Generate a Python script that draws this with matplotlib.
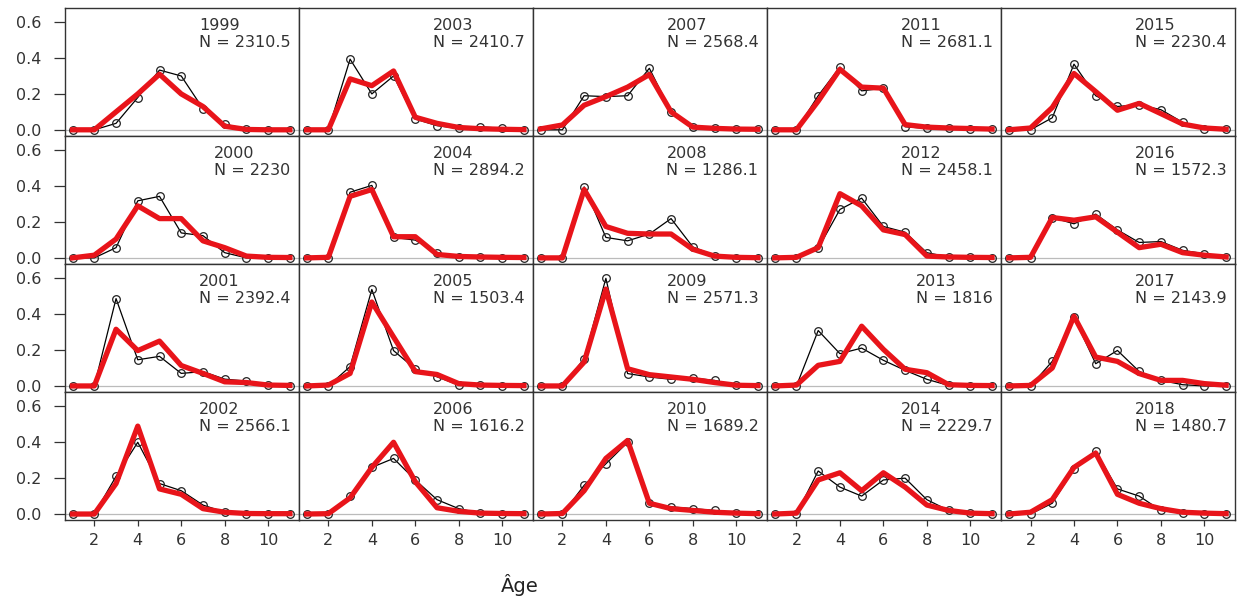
"""
Composition en âge observée (noir) et prédite (rouge) par année, 1999-2018.
"""

import numpy as np
import matplotlib
matplotlib.use("Agg")
import matplotlib.pyplot as plt

ages = np.arange(1, 12)

# années rangées par colonne (4 lignes x 5 colonnes)
years = [1999, 2000, 2001, 2002,
         2003, 2004, 2005, 2006,
         2007, 2008, 2009, 2010,
         2011, 2012, 2013, 2014,
         2015, 2016, 2017, 2018]

n_samples = [2310.5, 2230, 2392.4, 2566.1,
             2410.7, 2894.2, 1503.4, 1616.2,
             2568.4, 1286.1, 2571.3, 1689.2,
             2681.1, 2458.1, 1816, 2229.7,
             2230.4, 1572.3, 2143.9, 1480.7]

# proportions observées
obs = {
    1999: [0, 0, 0.036, 0.18, 0.333, 0.30, 0.118, 0.032, 0.004, 0, 0],
    2000: [0, 0, 0.057, 0.318, 0.343, 0.139, 0.124, 0.029, 0, 0, 0],
    2001: [0, 0, 0.487, 0.146, 0.165, 0.07, 0.08, 0.038, 0.027, 0.003, 0],
    2002: [0, 0, 0.21, 0.40, 0.17, 0.13, 0.05, 0.01, 0, 0, 0],
    2003: [0, 0, 0.394, 0.20, 0.30, 0.06, 0.023, 0.008, 0.017, 0.008, 0],
    2004: [0, 0, 0.366, 0.404, 0.114, 0.099, 0.029, 0.005, 0.003, 0.002, 0],
    2005: [0, 0, 0.108, 0.538, 0.197, 0.095, 0.051, 0.005, 0.003, 0.002, 0.002],
    2006: [0, 0, 0.10, 0.26, 0.31, 0.19, 0.08, 0.03, 0.004, 0.002, 0],
    2007: [0, 0, 0.19, 0.185, 0.19, 0.343, 0.10, 0.017, 0.01, 0.005, 0.003],
    2008: [0, 0, 0.396, 0.114, 0.095, 0.133, 0.219, 0.061, 0.013, 0.002, 0],
    2009: [0, 0, 0.152, 0.60, 0.069, 0.05, 0.037, 0.044, 0.031, 0.004, 0],
    2010: [0, 0, 0.16, 0.28, 0.40, 0.06, 0.04, 0.03, 0.02, 0.005, 0],
    2011: [0, 0, 0.19, 0.35, 0.217, 0.232, 0.017, 0.008, 0.008, 0.006, 0.003],
    2012: [0, 0, 0.053, 0.27, 0.333, 0.175, 0.143, 0.029, 0.005, 0.003, 0],
    2013: [0, 0, 0.309, 0.18, 0.211, 0.143, 0.087, 0.037, 0.003, 0.002, 0.002],
    2014: [0, 0, 0.24, 0.15, 0.10, 0.19, 0.20, 0.08, 0.02, 0.005, 0],
    2015: [0, 0, 0.067, 0.366, 0.19, 0.13, 0.14, 0.112, 0.042, 0.005, 0.003],
    2016: [0, 0, 0.225, 0.19, 0.244, 0.156, 0.086, 0.091, 0.042, 0.023, 0.005],
    2017: [0, 0, 0.137, 0.383, 0.124, 0.198, 0.081, 0.031, 0.007, 0, 0],
    2018: [0, 0, 0.06, 0.25, 0.35, 0.14, 0.10, 0.02, 0.005, 0, 0],
}

# proportions prédites par le modèle
pred = {
    1999: [0, 0, 0.10, 0.20, 0.31, 0.20, 0.13, 0.02, 0.002, 0, 0],
    2000: [0, 0.015, 0.105, 0.29, 0.219, 0.219, 0.095, 0.057, 0.01, 0.003, 0.002],
    2001: [0, 0, 0.316, 0.197, 0.25, 0.114, 0.07, 0.023, 0.019, 0.005, 0.003],
    2002: [0, 0, 0.17, 0.49, 0.14, 0.11, 0.03, 0.01, 0.003, 0.002, 0.002],
    2003: [0, 0, 0.284, 0.246, 0.328, 0.07, 0.036, 0.013, 0.006, 0.003, 0.001],
    2004: [0, 0.003, 0.343, 0.381, 0.118, 0.118, 0.019, 0.008, 0.005, 0.003, 0.002],
    2005: [0, 0.005, 0.07, 0.468, 0.273, 0.08, 0.064, 0.013, 0.005, 0.003, 0.002],
    2006: [0, 0.002, 0.09, 0.26, 0.40, 0.18, 0.035, 0.015, 0.005, 0.003, 0.002],
    2007: [0.005, 0.027, 0.137, 0.185, 0.238, 0.308, 0.10, 0.015, 0.008, 0.004, 0.003],
    2008: [0, 0, 0.381, 0.175, 0.137, 0.133, 0.133, 0.048, 0.01, 0.003, 0.001],
    2009: [0, 0, 0.133, 0.54, 0.096, 0.063, 0.05, 0.037, 0.019, 0.004, 0.002],
    2010: [0, 0.003, 0.13, 0.31, 0.41, 0.06, 0.03, 0.02, 0.01, 0.005, 0.002],
    2011: [0, 0, 0.16, 0.337, 0.238, 0.232, 0.029, 0.015, 0.01, 0.007, 0.004],
    2012: [0, 0.003, 0.057, 0.358, 0.29, 0.156, 0.13, 0.01, 0.005, 0.003, 0.002],
    2013: [0, 0.005, 0.115, 0.137, 0.333, 0.204, 0.093, 0.074, 0.007, 0.003, 0.002],
    2014: [0, 0.005, 0.19, 0.23, 0.13, 0.23, 0.15, 0.05, 0.02, 0.005, 0.002],
    2015: [0, 0.01, 0.124, 0.314, 0.213, 0.109, 0.147, 0.09, 0.032, 0.01, 0.003],
    2016: [0, 0.003, 0.225, 0.21, 0.229, 0.143, 0.057, 0.076, 0.029, 0.015, 0.005],
    2017: [0, 0.003, 0.10, 0.389, 0.161, 0.137, 0.069, 0.031, 0.031, 0.013, 0.004],
    2018: [0, 0.01, 0.08, 0.26, 0.34, 0.11, 0.06, 0.03, 0.01, 0.005, 0.002],
}

y_ticks = [0.0, 0.2, 0.4, 0.6]
x_ticks = [2, 4, 6, 8, 10]

plt.rcParams["font.family"] = ["DejaVu Sans"]

fig, axes = plt.subplots(4, 5, figsize=(12.41, 6.02), dpi=100, sharex=True, sharey=True)
fig.subplots_adjust(left=0.052, right=0.995, top=0.987, bottom=0.136, wspace=0, hspace=0)

for i, (year, n) in enumerate(zip(years, n_samples)):
    row = i % 4
    col = i // 4
    ax = axes[row, col]

    ax.axhline(0, color="#bbbbbb", linewidth=0.9, zorder=1)
    ax.plot(ages, obs[year], color="black", linewidth=0.9, marker="o",
            markersize=5.5, markerfacecolor="none", markeredgecolor="#222222",
            markeredgewidth=0.9, zorder=2)
    ax.plot(ages, pred[year], color="#e8141a", linewidth=3.8, zorder=3)

    ax.text(0.965, 0.92, f"{year}\nN = {n:g}", transform=ax.transAxes,
            ha="right", va="top", multialignment="left", fontsize=11.5,
            color="#333333", linespacing=1.15)

    for s in ax.spines.values():
        s.set_color("#333333")
        s.set_linewidth(1.0)

    ax.set_xlim(0.63, 11.4)
    ax.set_ylim(-0.034, 0.68)
    ax.set_xticks(x_ticks)
    ax.set_yticks(y_ticks)
    ax.tick_params(axis="both", direction="out", width=0.9,
                   color="#333333", labelsize=11.5, labelcolor="#333333")
    ax.tick_params(axis="y", length=8, pad=9)
    ax.tick_params(axis="x", length=4, pad=5)
    if col != 0:
        ax.tick_params(axis="y", left=False, labelleft=False)
    else:
        ax.set_yticklabels([f"{v:.1f}" for v in y_ticks])
    if row != 3:
        ax.tick_params(axis="x", bottom=False, labelbottom=False)

fig.text(0.419, 0.028, "Âge", fontsize=14, ha="center", va="center", color="#222222")

plt.savefig("out.png", dpi=100)
plt.close()
